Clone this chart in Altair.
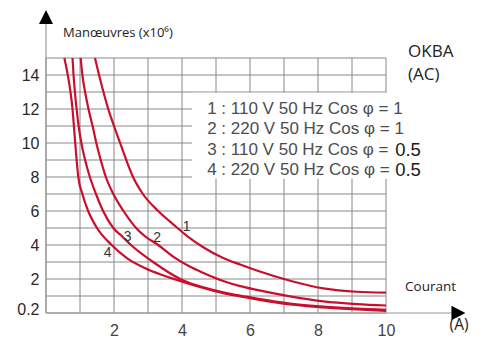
import altair as alt
import pandas as pd

# ---- data ----
curve_names = ["1", "2", "3", "4"]
c1_x = [1.44, 1.56, 1.69, 1.83, 2.0, 2.18, 2.36, 2.56, 2.85, 3.3, 3.75, 4.2, 4.6, 5.21, 5.71, 6.2, 7.18, 8.16, 9.14, 10.0]
c1_y = [15, 14, 13, 12, 11, 10, 9, 8, 7, 6, 5.2, 4.45, 3.9, 3.24, 2.85, 2.5, 1.9, 1.45, 1.25, 1.2]
c2_x = [1.02, 1.07, 1.15, 1.25, 1.37, 1.48, 1.61, 1.76, 1.98, 2.28, 2.65, 2.92, 3.3, 3.75, 4.24, 4.6, 5.21, 5.71, 6.2, 7.18, 8.16, 9.14, 10.0]
c2_y = [15, 14, 13, 12, 11, 10, 9, 8, 7, 6, 5, 4.5, 4, 3.3, 2.72, 2.38, 1.88, 1.58, 1.36, 0.98, 0.68, 0.52, 0.44]
c3_x = [0.78, 0.81, 0.85, 0.90, 0.96, 1.04, 1.15, 1.29, 1.47, 1.68, 1.98, 2.25, 2.5, 3.15, 3.95, 4.24, 4.6, 5.21, 5.71, 6.2, 7.18, 8.16, 9.14, 10.0]
c3_y = [15, 14, 13, 12, 11, 10, 9, 8, 7, 6, 5, 4.49, 4, 3, 2, 1.75, 1.53, 1.22, 1.02, 0.85, 0.56, 0.38, 0.26, 0.19]
c4_x = [0.54, 0.64, 0.72, 0.78, 0.82, 0.86, 0.90, 0.95, 1.07, 1.24, 1.5, 1.93, 2.4, 2.9, 3.4, 3.8, 4.24, 4.6, 5.21, 5.71, 6.2, 7.18, 8.16, 9.14, 10.0]
c4_y = [15, 14, 13, 12, 11, 10, 9, 8, 7, 6, 5, 4, 3.2, 2.65, 2.25, 1.98, 1.70, 1.49, 1.17, 0.98, 0.8, 0.5, 0.33, 0.21, 0.13]

label_x = [4.14, 3.27, 2.40, 1.81]
label_y = [5.08, 4.39, 4.49, 3.55]

x_ticks = [2, 4, 6, 8, 10]
y_ticks = [0.2, 2, 4, 6, 8, 10, 12, 14]
grid_x = list(range(0, 11))
grid_y = list(range(0, 16))

legend_text = ["1 : 110 V 50 Hz Cos \u03c6 = 1", "2 : 220 V 50 Hz Cos \u03c6 = 1",
               "3 : 110 V 50 Hz Cos \u03c6 =", "4 : 220 V 50 Hz Cos \u03c6 ="]
legend_value = ["", "", "0.5", "0.5"]

y_title = "Man\u0153uvres (x10\u2076)"
x_title = "Courant"
unit_text = "(A)"
product = ["OKBA", "(AC)"]

# ---- build tables ----
rows = []
for name, xs_, ys_ in zip(curve_names, [c1_x, c2_x, c3_x, c4_x], [c1_y, c2_y, c3_y, c4_y]):
    for i, (a, b) in enumerate(zip(xs_, ys_)):
        rows.append({"curve": name, "i": i, "x": a, "y": b})
curves = pd.DataFrame(rows)

X_MAX, Y_MAX = 12.5, 17.5
xs = alt.Scale(domain=[0, X_MAX], nice=False, zero=False)
ys = alt.Scale(domain=[0, Y_MAX], nice=False, zero=False)
RED = "#c8102e"
GRID = "#888888"

X_AX = alt.Axis(values=x_ticks, title=None, domain=False, ticks=False, grid=False,
                labelFont="Liberation Sans", labelFontSize=16, labelColor="#444",
                labelPadding=9, format="d")
Y_AX = alt.Axis(values=y_ticks, title=None, domain=False, ticks=False, grid=False,
                labelFont="Liberation Sans", labelFontSize=16, labelColor="#2a2a2a",
                labelPadding=7, format=".1~f")


def X(f):
    return alt.X(f, type="quantitative", scale=xs, axis=X_AX)


def Y(f):
    return alt.Y(f, type="quantitative", scale=ys, axis=Y_AX)


vgrid = pd.DataFrame({"x": grid_x, "y": 0, "y2": max(grid_y)})
hgrid = pd.DataFrame({"y": grid_y, "x": 0, "x2": max(grid_x)})

grid_v = alt.Chart(vgrid).mark_rule(color=GRID, strokeWidth=1).encode(x=X("x"), y=Y("y"), y2="y2:Q")
grid_h = alt.Chart(hgrid).mark_rule(color=GRID, strokeWidth=1).encode(y=Y("y"), x=X("x"), x2="x2:Q")

# white box behind legend text
box = alt.Chart(pd.DataFrame({"x": [4.29], "x2": [10.6], "y": [7.9], "y2": [12.95]})).mark_rect(
    color="white").encode(x=X("x"), x2="x2:Q", y=Y("y"), y2="y2:Q")

# axis lines + arrows
axis_x = alt.Chart(pd.DataFrame({"x": [0], "x2": [11.93], "y": [0]})).mark_rule(
    color="#9a9a9a", strokeWidth=1.2).encode(x=X("x"), x2="x2:Q", y=Y("y"))
axis_y = alt.Chart(pd.DataFrame({"x": [0], "y": [0], "y2": [17.0]})).mark_rule(
    color="#9a9a9a", strokeWidth=1.2).encode(x=X("x"), y=Y("y"), y2="y2:Q")
arrow_up = alt.Chart(pd.DataFrame({"x": [0], "y": [17.41]})).mark_point(
    shape="M0,-1L1,1L-1,1Z", size=196, filled=True, color="black", opacity=1, clip=False).encode(
    x=X("x"), y=Y("y"))
arrow_right = alt.Chart(pd.DataFrame({"x": [12.13], "y": [0]})).mark_point(
    shape="M1,0L-1,-1.05L-1,1.05Z", size=196, filled=True, color="black", opacity=1, clip=False).encode(
    x=X("x"), y=Y("y"))

lines = alt.Chart(curves).mark_line(interpolate="monotone", strokeWidth=2.2, color=RED).encode(
    x=X("x"), y=Y("y"), detail="curve:N", order="i:Q")

labels = alt.Chart(pd.DataFrame({"t": curve_names, "x": label_x, "y": label_y})).mark_text(
    font="Liberation Sans", fontSize=14, color="#333", align="center", baseline="middle").encode(
    x=X("x"), y=Y("y"), text="t:N")

leg = pd.DataFrame({"t": legend_text, "v": legend_value, "row": range(len(legend_text))})
leg["y"] = 12.0 - leg["row"] * 1.2
leg["x"] = 4.74
leg["xv"] = 10.27
legend_main = alt.Chart(leg).mark_text(
    font="Liberation Sans", fontSize=17, color="#4d4d4d", align="left", baseline="middle").encode(
    x=X("x"), y=Y("y"), text="t:N")
legend_val = alt.Chart(leg).mark_text(
    font="Liberation Sans", fontSize=18.5, color="#1a1a1a", align="left", baseline="middle").encode(
    x=X("xv"), y=Y("y"), text="v:N")

texts = pd.DataFrame({
    "t": [y_title, product[0], product[1], x_title, unit_text],
    "x": [0.5, 10.65, 10.65, 10.56, 11.87],
    "y": [16.47, 15.35, 14.0, 1.53, -0.72],
    "s": [13, 17, 17, 13.5, 15.5],
})


def txt(i):
    r = texts.iloc[i]
    return alt.Chart(texts.iloc[[i]]).mark_text(
        font="Open Sans", fontSize=float(r["s"]), color="#222", align="left", baseline="middle").encode(
        x=X("x"), y=Y("y"), text="t:N")


chart = alt.layer(grid_v, grid_h, box, axis_x, axis_y, arrow_up, arrow_right, lines, labels,
                  legend_main, legend_val, *[txt(i) for i in range(len(texts))]).properties(
    width=425, height=297.5,
    autosize=alt.AutoSizeParams(type="none"),
    padding={"left": 38, "top": 7.5, "right": 0, "bottom": 24},
    background="white",
).configure_view(strokeWidth=0)

chart.save("out.html", embed_options={"renderer": "svg", "actions": False})
